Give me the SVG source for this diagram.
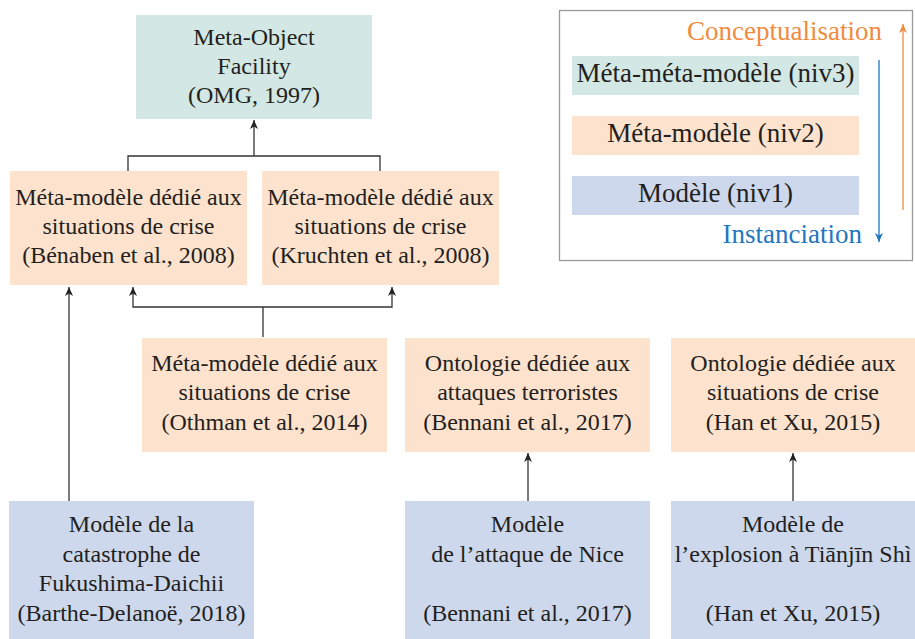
<svg xmlns="http://www.w3.org/2000/svg" width="915" height="639" viewBox="0 0 915 639">
<defs>
<marker id="ah" viewBox="-10 -5 10 10" refX="0" refY="0" markerWidth="10" markerHeight="10" markerUnits="userSpaceOnUse" orient="auto">
<path d="M0,0 L-9,-4 L-6.5,0 L-9,4 z" fill="#222"/>
</marker>
<marker id="ao" viewBox="-10 -5 10 10" refX="0" refY="0" markerWidth="10" markerHeight="10" markerUnits="userSpaceOnUse" orient="auto">
<path d="M0,0 L-9,-4 L-6.5,0 L-9,4 z" fill="#f08b40"/>
</marker>
<marker id="ab" viewBox="-10 -5 10 10" refX="0" refY="0" markerWidth="10" markerHeight="10" markerUnits="userSpaceOnUse" orient="auto">
<path d="M0,0 L-9,-4 L-6.5,0 L-9,4 z" fill="#1f77be"/>
</marker>
</defs>

<g id="connectors" fill="none" stroke="#333" stroke-width="1.3">
<path d="M254,156 V120" marker-end="url(#ah)"/>
<path d="M128,171 V156 H380 V171"/>
<path d="M263,337 V307"/>
<path d="M263,307 H133 V287" marker-end="url(#ah)"/>
<path d="M263,307 H392 V287" marker-end="url(#ah)"/>
<path d="M69,501 V287" marker-end="url(#ah)"/>
<path d="M528,501 V453" marker-end="url(#ah)"/>
<path d="M793,501 V453" marker-end="url(#ah)"/>
</g>

<g id="mof">
<rect fill="#d3e7e4" x="136" y="15" width="236" height="104"/>
<text x="254" y="45" font-family="Liberation Serif" font-size="24" text-anchor="middle" fill="#231f20">Meta-Object</text>
<text x="254" y="74" font-family="Liberation Serif" font-size="24" text-anchor="middle" fill="#231f20">Facility</text>
<text x="254" y="103" font-family="Liberation Serif" font-size="24" text-anchor="middle" fill="#231f20">(OMG, 1997)</text>
</g>

<g id="benaben">
<rect fill="#fde2cd" x="10" y="171" width="237" height="114"/>
<text x="128.5" y="205" font-family="Liberation Serif" font-size="24" text-anchor="middle" fill="#231f20">Méta-modèle dédié aux</text>
<text x="128.5" y="234" font-family="Liberation Serif" font-size="24" text-anchor="middle" fill="#231f20">situations de crise</text>
<text x="128.5" y="263" font-family="Liberation Serif" font-size="24" text-anchor="middle" fill="#231f20">(Bénaben et al., 2008)</text>
</g>

<g id="kruchten">
<rect fill="#fde2cd" x="262" y="171" width="237" height="114"/>
<text x="380.5" y="205" font-family="Liberation Serif" font-size="24" text-anchor="middle" fill="#231f20">Méta-modèle dédié aux</text>
<text x="380.5" y="234" font-family="Liberation Serif" font-size="24" text-anchor="middle" fill="#231f20">situations de crise</text>
<text x="380.5" y="263" font-family="Liberation Serif" font-size="24" text-anchor="middle" fill="#231f20">(Kruchten et al., 2008)</text>
</g>

<g id="othman">
<rect fill="#fde2cd" x="142" y="338" width="245" height="114"/>
<text x="264.5" y="371" font-family="Liberation Serif" font-size="24" text-anchor="middle" fill="#231f20">Méta-modèle dédié aux</text>
<text x="264.5" y="400" font-family="Liberation Serif" font-size="24" text-anchor="middle" fill="#231f20">situations de crise</text>
<text x="264.5" y="430" font-family="Liberation Serif" font-size="24" text-anchor="middle" fill="#231f20">(Othman et al., 2014)</text>
</g>

<g id="bennani-onto">
<rect fill="#fde2cd" x="405" y="338" width="245" height="114"/>
<text x="527.5" y="371" font-family="Liberation Serif" font-size="24" text-anchor="middle" fill="#231f20">Ontologie dédiée aux</text>
<text x="527.5" y="400" font-family="Liberation Serif" font-size="24" text-anchor="middle" fill="#231f20">attaques terroristes</text>
<text x="527.5" y="430" font-family="Liberation Serif" font-size="24" text-anchor="middle" fill="#231f20">(Bennani et al., 2017)</text>
</g>

<g id="han-onto">
<rect fill="#fde2cd" x="671" y="338" width="244" height="114"/>
<text x="793" y="371" font-family="Liberation Serif" font-size="24" text-anchor="middle" fill="#231f20">Ontologie dédiée aux</text>
<text x="793" y="400" font-family="Liberation Serif" font-size="24" text-anchor="middle" fill="#231f20">situations de crise</text>
<text x="793" y="430" font-family="Liberation Serif" font-size="24" text-anchor="middle" fill="#231f20">(Han et Xu, 2015)</text>
</g>

<g id="fukushima">
<rect fill="#cdd8ec" x="9" y="501" width="245" height="138"/>
<text x="131.5" y="532" font-family="Liberation Serif" font-size="24" text-anchor="middle" fill="#231f20">Modèle de la</text>
<text x="131.5" y="562" font-family="Liberation Serif" font-size="24" text-anchor="middle" fill="#231f20">catastrophe de</text>
<text x="131.5" y="591" font-family="Liberation Serif" font-size="24" text-anchor="middle" fill="#231f20">Fukushima-Daichii</text>
<text x="131.5" y="621" font-family="Liberation Serif" font-size="24" text-anchor="middle" fill="#231f20">(Barthe-Delanoë, 2018)</text>
</g>

<g id="nice">
<rect fill="#cdd8ec" x="405" y="501" width="245" height="138"/>
<text x="527.5" y="532" font-family="Liberation Serif" font-size="24" text-anchor="middle" fill="#231f20">Modèle</text>
<text x="527.5" y="562" font-family="Liberation Serif" font-size="24" text-anchor="middle" fill="#231f20">de l’attaque de Nice</text>
<text x="527.5" y="621" font-family="Liberation Serif" font-size="24" text-anchor="middle" fill="#231f20">(Bennani et al., 2017)</text>
</g>

<g id="tianjin">
<rect fill="#cdd8ec" x="671" y="501" width="244" height="138"/>
<text x="793" y="532" font-family="Liberation Serif" font-size="24" text-anchor="middle" fill="#231f20">Modèle de</text>
<text x="793" y="562" font-family="Liberation Serif" font-size="24" text-anchor="middle" fill="#231f20">l’explosion à Tiānjīn Shì</text>
<text x="793" y="621" font-family="Liberation Serif" font-size="24" text-anchor="middle" fill="#231f20">(Han et Xu, 2015)</text>
</g>

<g id="legend">
<rect x="559.5" y="10.5" width="353" height="250" fill="none" stroke="#9a9a9a" stroke-width="1.3"/>
<rect fill="#d3e7e4" x="572" y="56" width="287" height="39"/>
<text x="715.5" y="82" font-family="Liberation Serif" font-size="27" text-anchor="middle" fill="#231f20">Méta-méta-modèle (niv3)</text>
<rect fill="#fde2cd" x="572" y="116" width="287" height="39"/>
<text x="715.5" y="142" font-family="Liberation Serif" font-size="27" text-anchor="middle" fill="#231f20">Méta-modèle (niv2)</text>
<rect fill="#cdd8ec" x="572" y="176" width="287" height="39"/>
<text x="715.5" y="202" font-family="Liberation Serif" font-size="27" text-anchor="middle" fill="#231f20">Modèle (niv1)</text>
<text x="882" y="40" font-family="Liberation Serif" font-size="27" text-anchor="end" fill="#f08b40">Conceptualisation</text>
<text x="862" y="243" font-family="Liberation Serif" font-size="27" text-anchor="end" fill="#1f77be">Instanciation</text>
<path d="M903,210 V24" fill="none" stroke="#f08b40" stroke-width="1.3" marker-end="url(#ao)"/>
<path d="M879,60 V242" fill="none" stroke="#1f77be" stroke-width="1.3" marker-end="url(#ab)"/>
</g>
</svg>
